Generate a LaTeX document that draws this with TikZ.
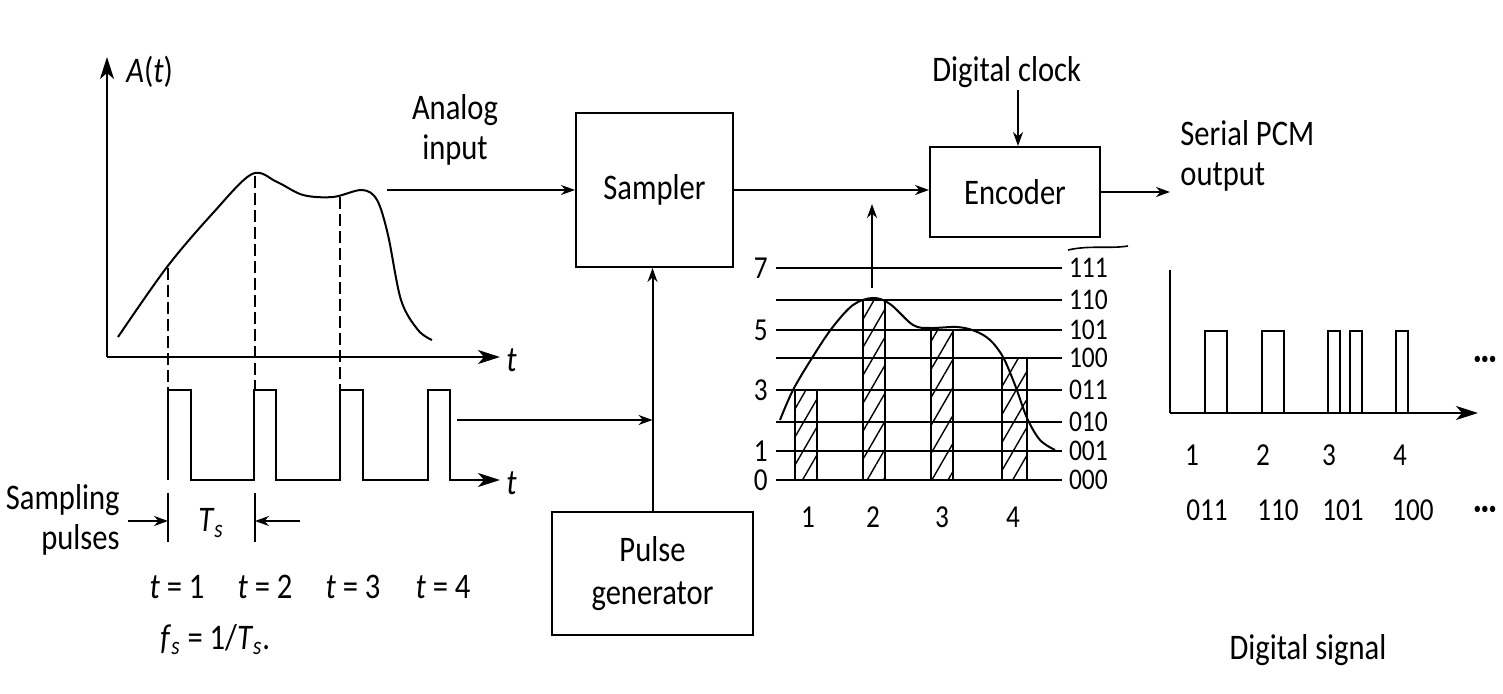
\documentclass[tikz,border=0pt]{standalone}
\usepackage{fontspec}
\setmainfont{Carlito}[FakeStretch=0.85]
\usetikzlibrary{positioning,calc}
\usetikzlibrary{arrows.meta,patterns.meta}
\tikzset{blk/.style={draw=black,line width=1pt,inner sep=2pt,font=\fontsize{18}{21.5}\selectfont,align=center}, txt/.style={inner sep=0pt,font=\fontsize{18}{20}\selectfont,align=center}, num/.style={inner sep=0pt,font=\fontsize{16}{18}\selectfont}, code/.style={inner sep=0pt,font=\fontsize{15}{15}\selectfont}, wire/.style={line width=1pt,-{Stealth[length=7pt,width=5pt]}}, axis/.style={line width=1pt,-{Stealth[length=11pt,width=7pt,inset=3pt]}}, lvl/.style={line width=1pt}, smpl/.style={line width=1pt,dash pattern=on 6pt off 2.5pt}, bar/.style={draw=black,line width=1pt,pattern={Lines[angle=60,distance=7pt,line width=0.7pt]}}}

\begin{document}
\begin{tikzpicture}[x=0.5pt,y=-0.5pt]
\useasboundingbox (0,0) rectangle (1503,694);
\coordinate (oa) at (107,357);
\coordinate (ya) at (107,57);
\coordinate (xa) at (500,357);
\draw[axis] (oa) -- (ya);
\draw[axis] (oa) -- (xa);
\node[txt,anchor=west] (alab) at (126,72) {\textit{A}(\textit{t})};
\node[txt,anchor=west] (ta) at (506,360) {\textit{t}};
\draw[line width=1pt] plot[smooth,tension=0.55] coordinates {(118,337) (167,267) (213,213) (252,174) (277,182) (303,195) (333,197) (362,190) (377,200) (388,235) (401,300) (418,330) (432,340)};
\draw[smpl] (168,268) -- (168,390);
\draw[smpl] (255,176) -- (255,390);
\draw[smpl] (340,197) -- (340,390);
\draw[line width=1pt] (168,480) -- (168,390) -- (191,390) -- (191,480) -- (254,480) -- (254,390) -- (276,390) -- (276,480) -- (340,480) -- (340,390) -- (363,390) -- (363,480) -- (428,480) -- (428,390) -- (450,390) -- (450,480);
\coordinate (ob) at (449,480);
\coordinate (xb) at (500,480);
\draw[axis] (ob) -- (xb);
\node[txt,anchor=west] (tb) at (506,483) {\textit{t}};
\draw[lvl] (168,493) -- (168,542);
\draw[lvl] (255,493) -- (255,542);
\coordinate (tsa) at (168,521);
\coordinate (tsb) at (255,521);
\coordinate (tsl) at (128,521);
\coordinate (tsr) at (300,521);
\draw[wire] (tsl) -- (tsa);
\draw[wire] (tsr) -- (tsb);
\node[txt] (tslab) at (211,523) {\textit{T}\textsubscript{\textit{s}}};
\node[txt,align=right,anchor=east] (splab) at (120,520) {Sampling\\pulses};
\node[txt] (t1) at (177,587) {\textit{t} = 1};
\node[txt] (t2) at (265,587) {\textit{t} = 2};
\node[txt] (t3) at (353,587) {\textit{t} = 3};
\node[txt] (t4) at (443,587) {\textit{t} = 4};
\node[txt,anchor=west] (fs) at (160,640) {\textit{f}\textsubscript{\textit{s}} = 1/\textit{T}\textsubscript{\textit{s}}.};

\node[blk,minimum width=78.5pt,minimum height=77pt] (smp) at (654.5,190) {Sampler};
\node[blk,minimum width=85pt,minimum height=45pt] (enc) at (1015,192) {Encoder};
\node[blk,minimum width=100.5pt,minimum height=61.5pt] (pgen) at (652.5,573.5) {Pulse\\generator};
\coordinate (ain) at (387,190);
\draw[wire] (ain) -- (smp.west);
\node[txt] (inlab) at (455,130) {Analog\\input};
\draw[wire] (smp.east) -- (smp.east -| enc.west);
\node[txt,anchor=west] (clk) at (932,72) {Digital clock};
\coordinate (clkin) at (1018,90);
\draw[wire] (clkin) -- (clkin |- enc.north);
\coordinate (pcm) at (1170,192);
\draw[wire] (enc.east) -- (pcm);
\node[txt,anchor=west,align=left] (pcmlab) at (1180,156) {Serial PCM\\output};
\draw[wire] (pgen.north) -- (pgen.north |- smp.south);
\coordinate (ptr) at (457,420);
\draw[wire] (ptr) -- (ptr -| pgen.north);

\draw[bar] (795,480) rectangle (817,390);
\draw[bar] (863,480) rectangle (885,300);
\draw[bar] (931,480) rectangle (953,330);
\draw[bar] (1002,480) rectangle (1027,358);
\draw[lvl] (776,268) -- (1062,268) node[code,right=3pt] (c7) {111};
\draw[lvl] (776,300) -- (1062,300) node[code,right=3pt] (c6) {110};
\draw[lvl] (776,330) -- (1062,330) node[code,right=3pt] (c5) {101};
\draw[lvl] (776,358) -- (1062,358) node[code,right=3pt] (c4) {100};
\draw[lvl] (776,390) -- (1062,390) node[code,right=3pt] (c3) {011};
\draw[lvl] (776,422) -- (1062,422) node[code,right=3pt] (c2) {010};
\draw[lvl] (776,451) -- (1062,451) node[code,right=3pt] (c1) {001};
\draw[lvl] (776,480) -- (1062,480) node[code,right=3pt] (c0) {000};
\draw[line width=0.8pt] (1068,250) .. controls (1090,245) and (1110,249) .. (1128,246);
\node[num,anchor=east] (q7) at (768,268) {7};
\node[num,anchor=east] (q5) at (768,330) {5};
\node[num,anchor=east] (q3) at (768,390) {3};
\node[num,anchor=east] (q1) at (768,451) {1};
\node[num,anchor=east] (q0) at (768,480) {0};
\draw[line width=1pt] plot[smooth,tension=0.55] coordinates {(780,420) (793,390) (812,358) (832,328) (853,305) (873,298) (890,304) (913,325) (930,328) (957,327) (975,331) (990,340) (1003,357) (1015,385) (1027,418) (1040,440) (1055,450)};
\coordinate (qtop) at (872,288);
\draw[wire,shorten >=7pt] (qtop) -- (qtop |- smp.east);
\node[num] (n1) at (808,517) {1};
\node[num] (n2) at (873,517) {2};
\node[num] (n3) at (942,517) {3};
\node[num] (n4) at (1013,517) {4};

\coordinate (oc) at (1170,413);
\coordinate (yc) at (1170,270);
\coordinate (xc) at (1478,413);
\draw[lvl] (oc) -- (yc);
\draw[axis] (oc) -- (xc);
\draw[lvl] (1205,413) -- (1205,331) -- (1227,331) -- (1227,413);
\draw[lvl] (1262,413) -- (1262,331) -- (1284,331) -- (1284,413);
\draw[lvl] (1328,413) -- (1328,331) -- (1340,331) -- (1340,413);
\draw[lvl] (1350,413) -- (1350,331) -- (1362,331) -- (1362,413);
\draw[lvl] (1396,413) -- (1396,331) -- (1408,331) -- (1408,413);
\node[num] (dots1) at (1485,360) {\fontsize{9}{9}\selectfont\textbullet\textbullet\textbullet};
\node[num] (d1) at (1192,455) {1};
\node[num] (d2) at (1263,455) {2};
\node[num] (d3) at (1329,455) {3};
\node[num] (d4) at (1400,455) {4};
\node[num] (w1) at (1207,510) {011};
\node[num] (w2) at (1278,510) {110};
\node[num] (w3) at (1343,510) {101};
\node[num] (w4) at (1413,510) {100};
\node[num] (dots2) at (1485,510) {\fontsize{9}{9}\selectfont\textbullet\textbullet\textbullet};
\node[txt] (dsig) at (1308,650) {Digital signal};
\end{tikzpicture}
\end{document}
